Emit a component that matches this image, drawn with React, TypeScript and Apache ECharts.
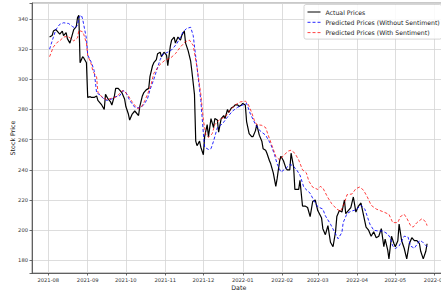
import React, { useEffect, useRef } from "react";
import * as echarts from "echarts";

const actualDates = [
  "2021-08-02","2021-08-04","2021-08-05","2021-08-07","2021-08-09","2021-08-10","2021-08-12","2021-08-13","2021-08-15","2021-08-16","2021-08-18","2021-08-20","2021-08-21","2021-08-23","2021-08-24","2021-08-25","2021-08-26","2021-08-28","2021-08-29","2021-08-31",
  "2021-09-01","2021-09-03","2021-09-04","2021-09-06","2021-09-08","2021-09-09","2021-09-11","2021-09-12","2021-09-14","2021-09-15","2021-09-17","2021-09-19","2021-09-20","2021-09-22","2021-09-23","2021-09-25","2021-09-26","2021-09-28","2021-09-30",
  "2021-10-01","2021-10-03","2021-10-04","2021-10-06","2021-10-08","2021-10-09","2021-10-11","2021-10-12","2021-10-14","2021-10-15","2021-10-17","2021-10-19","2021-10-20","2021-10-22","2021-10-23","2021-10-25","2021-10-26","2021-10-28","2021-10-29","2021-10-31",
  "2021-11-02","2021-11-03","2021-11-05","2021-11-06","2021-11-08","2021-11-09","2021-11-11","2021-11-13","2021-11-14","2021-11-16","2021-11-17","2021-11-19","2021-11-21","2021-11-22","2021-11-24","2021-11-25","2021-11-26","2021-11-28","2021-11-29",
  "2021-12-01","2021-12-02","2021-12-04","2021-12-05","2021-12-07","2021-12-09","2021-12-10","2021-12-12","2021-12-13","2021-12-15","2021-12-17","2021-12-18","2021-12-20","2021-12-21","2021-12-23","2021-12-25","2021-12-26","2021-12-28","2021-12-29","2021-12-31",
  "2022-01-01","2022-01-03","2022-01-04","2022-01-06","2022-01-08","2022-01-09","2022-01-11","2022-01-12","2022-01-14","2022-01-16","2022-01-17","2022-01-19","2022-01-20","2022-01-22","2022-01-23","2022-01-25","2022-01-27","2022-01-28","2022-01-30","2022-01-31",
  "2022-02-02","2022-02-04","2022-02-05","2022-02-07","2022-02-08","2022-02-10","2022-02-11","2022-02-14","2022-02-15","2022-02-17","2022-02-19","2022-02-21","2022-02-23","2022-02-25","2022-02-27",
  "2022-03-01","2022-03-04","2022-03-05","2022-03-07","2022-03-09","2022-03-11","2022-03-13","2022-03-15","2022-03-16","2022-03-18","2022-03-20","2022-03-22","2022-03-23","2022-03-25","2022-03-27","2022-03-29","2022-03-31",
  "2022-04-02","2022-04-04","2022-04-06","2022-04-08","2022-04-10","2022-04-12","2022-04-14","2022-04-16","2022-04-18","2022-04-20","2022-04-22","2022-04-23","2022-04-25","2022-04-26","2022-04-28","2022-04-30",
  "2022-05-01","2022-05-03","2022-05-04","2022-05-06","2022-05-08","2022-05-10","2022-05-12","2022-05-14","2022-05-16","2022-05-18","2022-05-20","2022-05-21","2022-05-23","2022-05-25","2022-05-26",
];
const actualPrices = [
  328,329,332,333,331,330,332,329,331,327,324,330,333,335,341,342.5,311,315,314,311,
  288,288.5,288,288,289,286,284,283,280,290,287,285,283,289,294,294,293,291,287,
  282,277,273,277,279,278,276,282,289,291,293,294,302,309,311,313,317,318,315,318,
  316,309,322,326,328,324,328,326,329,332,324,319,312,305,290,259,256,259,255,
  250,262,270,262,274,268,274,273,265,274,276,274,280,278,281,282,283,283,282,283,
  284,283,272,264,262,262,266,270,263,259,254,253,251,246,244,238,229,234,246,249,
  246,241,240,240,251,242,227,227,233,216,216,215,209,219,220,
  213,208,201,197,203,192,189,199,209,213,212,220,211,213,215,222,212,
  216,218,210,202,200,196,199,195,196,201,189,194,187,181,196,191,
  189,193,204,193,188,181,191,195,193,193,191,186,181,186,191,
];

const noSentDates = [
  "2021-08-02","2021-08-05","2021-08-07","2021-08-10","2021-08-13","2021-08-17","2021-08-20","2021-08-22","2021-08-24","2021-08-25","2021-08-27","2021-08-28","2021-08-31",
  "2021-09-01","2021-09-04","2021-09-06","2021-09-08","2021-09-11","2021-09-13","2021-09-16","2021-09-20","2021-09-23","2021-09-26","2021-09-29",
  "2021-10-01","2021-10-04","2021-10-08","2021-10-12","2021-10-15","2021-10-18","2021-10-20","2021-10-23","2021-10-26","2021-10-28","2021-10-30",
  "2021-11-03","2021-11-06","2021-11-10","2021-11-13","2021-11-15","2021-11-18","2021-11-21","2021-11-23","2021-11-26","2021-11-29",
  "2021-12-01","2021-12-02","2021-12-05","2021-12-07","2021-12-09","2021-12-12","2021-12-16","2021-12-20","2021-12-24","2021-12-28",
  "2022-01-01","2022-01-04","2022-01-07","2022-01-11","2022-01-15","2022-01-19","2022-01-23","2022-01-26","2022-01-28","2022-01-31",
  "2022-02-04","2022-02-07","2022-02-09","2022-02-12","2022-02-15","2022-02-18","2022-02-21","2022-02-23","2022-02-26",
  "2022-03-01","2022-03-05","2022-03-07","2022-03-11","2022-03-15","2022-03-17","2022-03-20","2022-03-21","2022-03-24","2022-03-27","2022-03-31",
  "2022-04-04","2022-04-07","2022-04-09","2022-04-11","2022-04-14","2022-04-17","2022-04-21","2022-04-25","2022-04-27","2022-04-29",
  "2022-05-01","2022-05-04","2022-05-08","2022-05-11","2022-05-13","2022-05-16","2022-05-20","2022-05-22","2022-05-26",
];
const noSentPrices = [
  320,328,333,336.5,337.5,337,335,334,336,341,342.5,340,327,
  316,311,306,291,289.5,287.5,286,287,288.5,289,292.5,
  291.5,286,281.5,281,283,287,293,300,308,313,316.5,
  318,319.5,323.5,328,331.5,333.8,334.5,329,308,286,
  264,255,253.5,254,259,268,270.5,275,279,281.5,
  283,284,277,270,265.5,263,257,250,244,238.5,
  241,243.5,243,240.5,236.5,228.5,226,224.5,219.5,
  215.5,214,209.5,204,197.5,194.3,198.5,205,211,212.5,213.5,
  216.5,214,209,204,200,199.5,199.5,197.5,195,189.5,
  187.8,189.5,196,195.5,189.5,188,193,192.5,189,
];

const sentDates = [
  "2021-08-02","2021-08-05","2021-08-08","2021-08-10","2021-08-13","2021-08-16","2021-08-18","2021-08-21","2021-08-24","2021-08-25","2021-08-28","2021-08-29","2021-08-31",
  "2021-09-01","2021-09-04","2021-09-05","2021-09-08","2021-09-09","2021-09-12","2021-09-16","2021-09-20","2021-09-24","2021-09-28","2021-09-30",
  "2021-10-03","2021-10-06","2021-10-10","2021-10-13","2021-10-16","2021-10-18","2021-10-21","2021-10-23","2021-10-28",
  "2021-11-01","2021-11-05","2021-11-09","2021-11-13","2021-11-17","2021-11-20","2021-11-23","2021-11-26","2021-11-29",
  "2021-12-01","2021-12-03","2021-12-05","2021-12-08","2021-12-10","2021-12-14","2021-12-18","2021-12-22","2021-12-26","2021-12-30",
  "2022-01-03","2022-01-05","2022-01-08","2022-01-10","2022-01-12","2022-01-16","2022-01-19","2022-01-21","2022-01-24","2022-01-27","2022-01-30",
  "2022-02-02","2022-02-06","2022-02-08","2022-02-11","2022-02-14","2022-02-17","2022-02-20","2022-02-22","2022-02-25",
  "2022-03-01","2022-03-03","2022-03-05","2022-03-09","2022-03-12","2022-03-16","2022-03-19","2022-03-22","2022-03-24","2022-03-28","2022-03-31",
  "2022-04-03","2022-04-06","2022-04-09","2022-04-12","2022-04-16","2022-04-22","2022-04-26","2022-04-29",
  "2022-05-03","2022-05-05","2022-05-08","2022-05-10","2022-05-13","2022-05-15","2022-05-18","2022-05-22","2022-05-25","2022-05-26",
];
const sentPrices = [
  315,321.5,324.5,325.5,328,328.5,327.5,325.5,327.5,332.5,331.5,329.5,324,
  316,309.5,305.5,301.5,291.5,288.5,286.5,287.5,288.5,292.5,292,
  289,285,280.7,281.3,286,290,297,304,310,
  312.8,314,317,321.5,325,326,322.5,308,290,
  273,263,261.5,264,270,273.5,275,279.5,283,285,
  285.5,284,278,273,270,269.5,268,263,256,249,246.5,
  249.5,252.5,253,251,246.5,240,238,232.5,228.5,
  227,229,228,221.5,217.5,214,212.5,218,223.5,224,227.5,
  228.6,226.5,222,216.5,214,212,210.5,205,
  205,209,210.5,208,203.1,202,205,207.6,205.5,203,
];

const seriesNames = [
  "Actual Prices",
  "Predicted Prices (Without Sentiment)",
  "Predicted Prices (With Sentiment)",
];

const zip = (d: string[], v: number[]) => {
  const n = Math.min(d.length, v.length);
  const out: [string, number][] = [];
  for (let i = 0; i < n; i++) out.push([d[i], v[i]]);
  return out;
};

export default function App() {
  const ref = useRef<HTMLDivElement>(null);
  useEffect(() => {
    if (!ref.current) return;
    const chart = echarts.init(ref.current, null, { renderer: "svg" });
    const font = "DejaVu Sans";
    const pad = (n: number) => (n < 10 ? "0" + n : "" + n);
    chart.setOption({
      animation: false,
      backgroundColor: "#ffffff",
      grid: {
        left: 32,
        right: -4.5,
        top: 3,
        bottom: 22,
        show: true,
        borderColor: "#777",
        borderWidth: 0.8,
        containLabel: false,
        outerBoundsMode: "none",
      },
      legend: {
        orient: "vertical",
        left: 304,
        top: 4.5,
        padding: [4, 2, 3, 3],
        itemWidth: 13,
        itemHeight: 7,
        itemGap: 3.3,
        backgroundColor: "rgba(255,255,255,0.85)",
        borderColor: "#cccccc",
        borderWidth: 0.8,
        borderRadius: 2,
        itemStyle: { opacity: 0 },
        lineStyle: { width: 1 },
        textStyle: { fontFamily: font, fontSize: 6.2, color: "#222", lineHeight: 7 },
        data: seriesNames,
      },
      xAxis: {
        type: "time",
        min: new Date(2021, 6, 19, 4).getTime(),
        max: new Date(2022, 5, 9, 12).getTime(),
        splitNumber: 11,
        minInterval: 28 * 86400000,
        maxInterval: 31 * 86400000,
        name: "Date",
        nameLocation: "middle",
        nameGap: 11,
        nameMoveOverlap: false,
        nameTextStyle: { fontFamily: font, fontSize: 6.3, color: "#222" },
        axisLine: { show: true, lineStyle: { color: "#444", width: 0.8 } },
        axisTick: { show: true, length: 2.5, lineStyle: { color: "#444", width: 0.8 } },
        axisLabel: {
          fontFamily: font,
          fontSize: 5.2,
          color: "#333",
          margin: 4,
          hideOverlap: false,
          formatter: (v: number) => {
            const d = new Date(v);
            if (d.getDate() !== 1 || d.getHours() !== 0) return "";
            return d.getFullYear() + "-" + pad(d.getMonth() + 1);
          },
        },
        splitLine: { show: true, lineStyle: { color: "#d4d4d4", width: 0.8 } },
      },
      yAxis: {
        type: "value",
        min: 171.6,
        max: 350.6,
        splitNumber: 9,
        name: "Stock Price",
        nameLocation: "middle",
        nameGap: 17,
        nameMoveOverlap: false,
        nameTextStyle: { fontFamily: font, fontSize: 6.3, color: "#222" },
        axisLine: { show: true, lineStyle: { color: "#444", width: 0.8 } },
        axisTick: { show: true, length: 2.5, lineStyle: { color: "#444", width: 0.8 } },
        axisLabel: {
          fontFamily: font,
          fontSize: 5.2,
          color: "#333",
          margin: 4,
          formatter: (v: number) => (Math.abs(v % 20) < 1e-6 ? String(v) : ""),
        },
        splitLine: { show: true, lineStyle: { color: "#d4d4d4", width: 0.8 } },
      },
      series: [
        {
          name: seriesNames[0],
          type: "line",
          data: zip(actualDates, actualPrices),
          symbol: "none",
          showSymbol: false,
          itemStyle: { color: "#000000" },
          lineStyle: { color: "#000000", width: 1.2 },
        },
        {
          name: seriesNames[1],
          type: "line",
          data: zip(noSentDates, noSentPrices),
          symbol: "none",
          showSymbol: false,
          itemStyle: { color: "rgba(0,0,255,0.85)" },
          lineStyle: { color: "rgba(0,0,255,0.85)", width: 1, type: [3, 2] },
        },
        {
          name: seriesNames[2],
          type: "line",
          data: zip(sentDates, sentPrices),
          symbol: "none",
          showSymbol: false,
          itemStyle: { color: "rgba(255,0,0,0.75)" },
          lineStyle: { color: "rgba(255,0,0,0.75)", width: 1, type: [3, 2] },
        },
      ],
    });
    return () => chart.dispose();
  }, []);
  return (
    <div
      ref={ref}
      style={{ position: "fixed", left: 0, top: 0, width: 441, height: 295, background: "#fff" }}
    />
  );
}
